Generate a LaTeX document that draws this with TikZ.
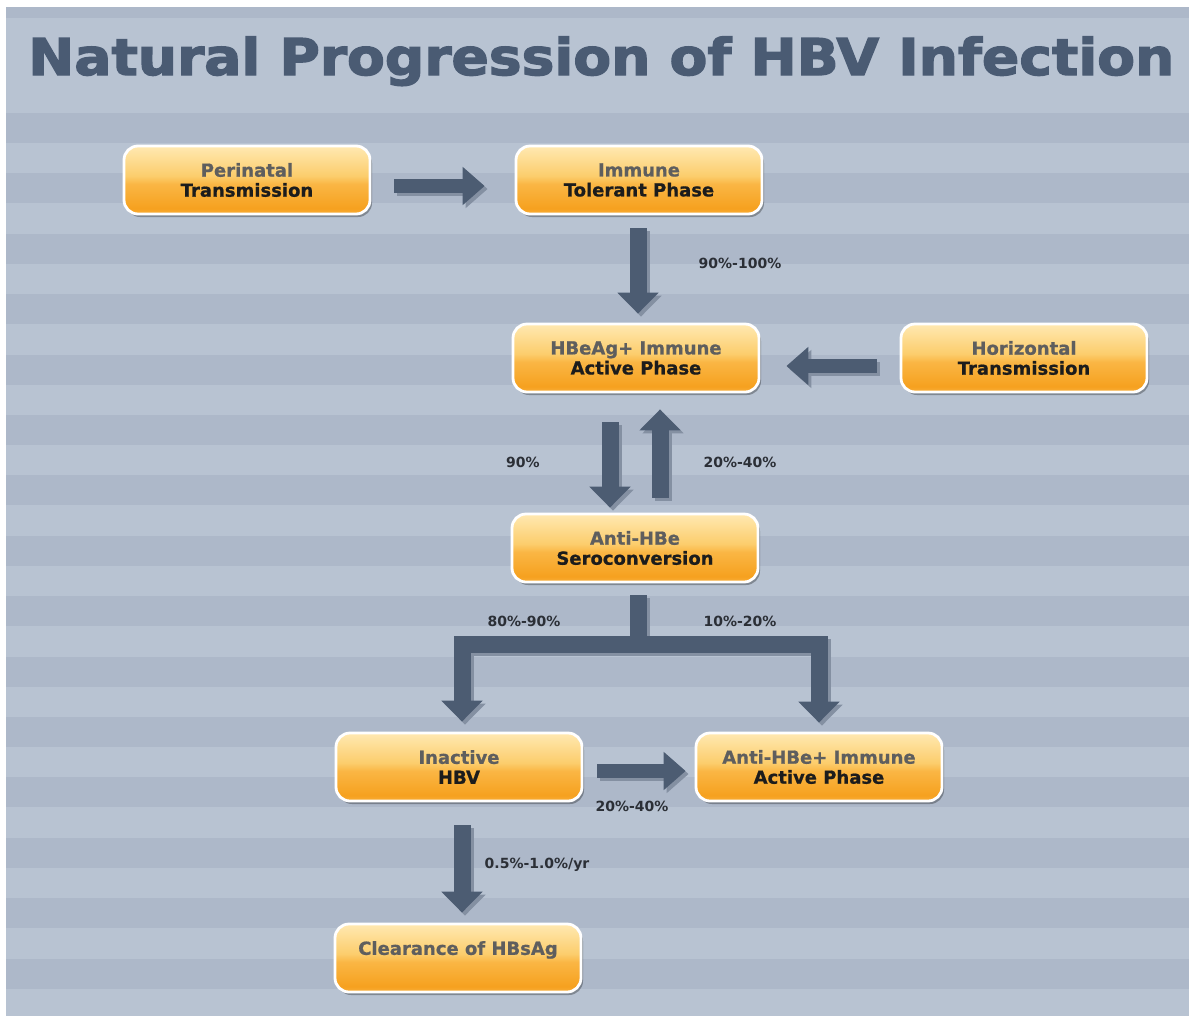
\documentclass[tikz,border=0pt]{standalone}
\usepackage{fontspec}
\usepackage{graphicx}
\setmainfont{DejaVu Sans}
\newfontfamily\ttlfont[BoldFeatures={FakeBold=2.5}]{DejaVu Sans}
\newfontfamily\boxfont[BoldFeatures={FakeBold=0.8}]{DejaVu Sans}
\usetikzlibrary{arrows.meta,calc,shadows}
\definecolor{bgl}{HTML}{B8C3D2}
\definecolor{bgd}{HTML}{ADB8C9}
\definecolor{ttl}{HTML}{4A5B73}
\definecolor{arr}{HTML}{4C5C72}
\definecolor{arrsh}{HTML}{8490A2}
\definecolor{orT}{HTML}{FFE9B2}
\definecolor{orMa}{HTML}{FCCD6C}
\definecolor{orMb}{HTML}{FAB644}
\definecolor{orB}{HTML}{F6A11F}
\definecolor{orBB}{HTML}{F8AE3A}
\definecolor{txg}{HTML}{5E5E5E}
\definecolor{txd}{HTML}{1C1C1C}
\definecolor{lbl}{HTML}{2B2F36}
\pgfdeclareverticalshading{glossy}{100bp}{color(0bp)=(orBB); color(25bp)=(orBB); color(29bp)=(orB); color(47bp)=(orMb); color(53bp)=(orMa); color(75bp)=(orT); color(100bp)=(orT)}
\tikzset{
  box/.style={rounded corners=14pt, draw=white, line width=2.8pt, shading=glossy,
    minimum width=246pt, minimum height=68pt, inner sep=0pt, align=center, text=txd,
    font=\boxfont\bfseries\fontsize{18}{20}\selectfont,
    drop shadow={shadow xshift=2pt, shadow yshift=-3pt, opacity=0.3, fill=black}},
  blk/.style={draw=arr, line width=17pt, line join=miter, -{Triangle[width=40pt,length=21pt]}},
  blkh/.style={blk, line width=14pt, -{Triangle[width=37pt,length=22pt]}},
  shd/.style={draw=arrsh, transform canvas={shift={(3pt,-3pt)}}},
  lab/.style={font=\bfseries\fontsize{14}{16}\selectfont, text=lbl, inner sep=0pt}
}
\newcommand\barrow[2]{\draw[#1,shd] #2; \draw[#1] #2;}
\begin{document}
\begin{tikzpicture}[x=1pt,y=-1pt]
\useasboundingbox (0,0) rectangle (1192,1021);
% background
\fill[white] (0,0) rectangle (1192,1021);
\fill[bgl] (6,7) rectangle (1189,1016);
\fill[bgd] (6,7) rectangle (1189,18);
\foreach \i in {0,...,14}{
  \pgfmathsetmacro\yy{113+60.4*\i}
  \fill[bgd] (6,\yy) rectangle (1189,\yy+30);
}
% title
\node[anchor=base west, inner sep=0pt, text=ttl] (title) at (28,75)
  {\resizebox{1146pt}{38.5pt}{\ttlfont\bfseries Natural Progression of HBV Infection}};
% boxes
\node[box] (peri)  at (247,180) {\textcolor{txg}{Perinatal}\\Transmission};
\node[box] (imm)   at (639,180) {\textcolor{txg}{Immune}\\Tolerant Phase};
\node[box] (hbeag) at (636,358) {\textcolor{txg}{HBeAg+ Immune}\\Active Phase};
\node[box] (horiz) at (1024,358) {\textcolor{txg}{Horizontal}\\Transmission};
\node[box] (anti)  at (635,548) {\textcolor{txg}{Anti-HBe}\\Seroconversion};
\node[box] (inact) at (459,767) {\textcolor{txg}{Inactive}\\HBV};
\node[box] (antip) at (819,767) {\textcolor{txg}{Anti-HBe+ Immune}\\Active Phase};
\node[box] (clear) at (458,958) {\textcolor{txg}{Clearance of HBsAg}\\\mbox{}};
% connectors
\coordinate (split) at ($(anti.south)+(3,61)$);
\barrow{blkh}{($(peri.east)+(23,6)$) -- ($(imm.west)+(-30,6)$)}
\barrow{blk}{($(imm.south)+(-1,13)$) -- ($(hbeag.north)+(2,-9)$)}
\barrow{blkh}{($(horiz.west)+(-23,8)$) -- ($(hbeag.east)+(26,8)$)}
\barrow{blk}{($(hbeag.south)+(-26,29)$) -- ($(anti.north)+(-25,-5)$)}
\barrow{blk}{($(anti.north)+(25,-15)$) -- ($(hbeag.south)+(24,16)$)}
\barrow{blk}{($(anti.south)+(3,12)$) -- (split) -| ($(inact.north)+(3,-10)$)}
\barrow{blk}{(split) -| ($(antip.north)+(0,-9)$)}
\barrow{blkh}{($(inact.east)+(14,4)$) -- ($(antip.west)+(-9,4)$)}
\barrow{blk}{($(inact.south)+(3,23)$) -- ($(clear.north)+(4,-10)$)}
% labels
\node[lab] (l1) at (740,263) {90\%-100\%};
\node[lab] (l2) at (523,462) {90\%};
\node[lab] (l3) at (740,462) {20\%-40\%};
\node[lab] (l4) at (524,621) {80\%-90\%};
\node[lab] (l5) at (740,621) {10\%-20\%};
\node[lab] (l6) at (632,806) {20\%-40\%};
\node[lab] (l7) at (537,865) {0.5\%-1.0\%/yr};
\end{tikzpicture}
\end{document}
